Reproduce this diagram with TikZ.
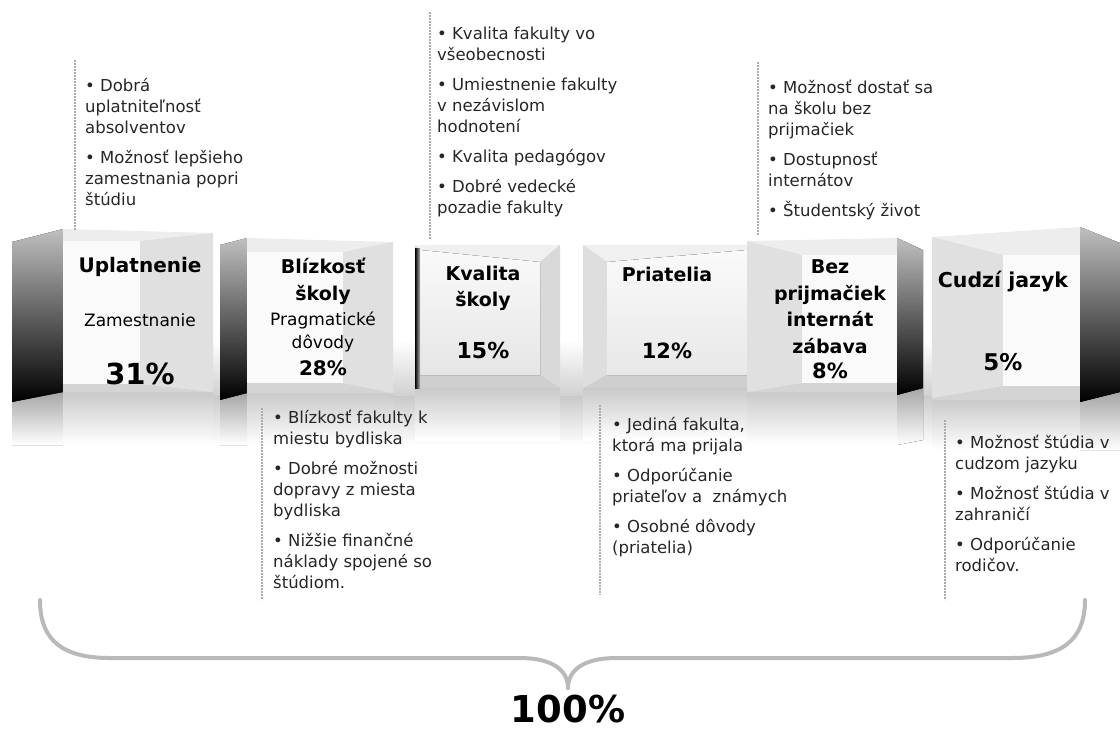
\documentclass[tikz,border=0pt]{standalone}
\usepackage{fontspec}
\setmainfont{DejaVu Sans}
\begin{document}
\begin{tikzpicture}[x=1pt,y=-1pt,
  sideface/.style={top color=gray!50, bottom color=black},
  frontface/.style={fill=gray!14},
  backwall/.style={fill=gray!4},
  innerwall/.style={fill=gray!24},
  floorface/.style={fill=gray!34},
  refl/.style={top color=gray!42, bottom color=white},
  darkrefl/.style={top color=gray!70, bottom color=white},
  bullets/.style={anchor=north west, inner sep=0pt, align=left, text=black!85, font=\fontsize{16.5}{21}\selectfont},
  ttl/.style={anchor=base, inner sep=0pt, font=\fontsize{19}{24}\selectfont\bfseries},
  subt/.style={anchor=base, inner sep=0pt, font=\fontsize{17}{22}\selectfont},
  pct/.style={anchor=base, inner sep=0pt},
  guide/.style={gray!65, line width=1.2pt, dash pattern=on 2pt off 1pt},
  brace/.style={gray!55, line width=4pt, line cap=round}
]
\path[use as bounding box] (0,0) rectangle (1120,729);

% background band behind the cubes and common reflection
\fill[top color=white, bottom color=gray!38] (200,340) rectangle (940,398);
\fill[refl] (12,396) rectangle (1120,446);

% ---------- reflections ----------
\fill[darkrefl] (12,400) -- (63,392) -- (63,445) -- (12,445) -- cycle;
\fill[refl] (63,392) rectangle (213,445);
\fill[darkrefl] (220,400) -- (247,393) -- (247,445) -- (220,445) -- cycle;
\fill[refl] (247,393) rectangle (393,445);
\fill[refl] (415,388) rectangle (560,440);
\fill[refl] (583,388) rectangle (752,440);
\fill[refl] (747,392) rectangle (897,445);
\fill[darkrefl] (897,395) -- (923,388) -- (923,440) -- (897,445) -- cycle;
\fill[refl] (932,400) rectangle (1080,450);
\fill[darkrefl] (1080,402) -- (1120,392) -- (1120,450) -- (1080,450) -- cycle;

% ---------- cube 1: Uplatnenie ----------
\fill[sideface] (12,242) -- (63,229) -- (63,392) -- (12,402) -- cycle;
\fill[frontface] (63,229) -- (213,233) -- (213,392) -- (63,392) -- cycle;
\fill[backwall] (63,241) -- (140,241) -- (140,384) -- (63,384) -- cycle;
\fill[innerwall] (140,241) -- (213,233) -- (213,392) -- (140,384) -- cycle;
\fill[floorface] (63,384) -- (140,384) -- (213,392) -- (63,392) -- cycle;

% ---------- cube 2: Blizkost ----------
\fill[sideface] (220,245) -- (247,238) -- (247,393) -- (220,400) -- cycle;
\fill[frontface] (247,238) -- (393,242) -- (393,393) -- (247,393) -- cycle;
\fill[backwall] (247,252) -- (343,252) -- (343,383) -- (247,383) -- cycle;
\fill[innerwall] (343,252) -- (393,242) -- (393,393) -- (343,383) -- cycle;
\fill[floorface] (247,383) -- (343,383) -- (393,393) -- (247,393) -- cycle;

% ---------- cube 3: Kvalita ----------
\fill[gray!30] (415,245) rectangle (560,388);
\fill[gray!12] (415,245) -- (560,245) -- (540,262) -- (420,250) -- cycle;
\fill[gray!30] (560,245) -- (560,388) -- (540,375) -- (540,262) -- cycle;
\fill[gray!38] (415,388) -- (560,388) -- (540,375) -- (420,375) -- cycle;
\fill[top color=gray!4, bottom color=gray!20] (420,250) -- (540,262) -- (540,375) -- (420,375) -- cycle;
\fill[left color=black, right color=gray!60] (415,248) rectangle (420,388);

% ---------- cube 4: Priatelia ----------
\fill[gray!30] (583,245) rectangle (752,388);
\fill[gray!12] (583,245) -- (752,245) -- (747,250) -- (607,262) -- cycle;
\fill[gray!26] (583,245) -- (607,262) -- (607,375) -- (583,388) -- cycle;
\fill[gray!38] (583,388) -- (607,375) -- (747,375) -- (752,388) -- cycle;
\fill[top color=gray!4, bottom color=gray!18] (607,262) -- (747,250) -- (747,375) -- (607,375) -- cycle;
\fill[left color=gray!60, right color=black] (747,250) rectangle (752,388);

% ---------- cube 5: Bez prijmaciek ----------
\fill[frontface] (747,241) -- (897,238) -- (897,392) -- (747,392) -- cycle;
\fill[innerwall] (747,241) -- (802,255) -- (802,383) -- (747,392) -- cycle;
\fill[backwall] (802,255) -- (897,255) -- (897,383) -- (802,383) -- cycle;
\fill[floorface] (747,392) -- (802,383) -- (897,383) -- (897,392) -- cycle;
\fill[sideface] (897,238) -- (923,250) -- (923,388) -- (897,395) -- cycle;

% ---------- cube 6: Cudzi jazyk ----------
\fill[frontface] (932,237) -- (1080,227) -- (1080,400) -- (932,400) -- cycle;
\fill[innerwall] (932,237) -- (1003,255) -- (1003,386) -- (932,398) -- cycle;
\fill[backwall] (1003,255) -- (1080,255) -- (1080,386) -- (1003,386) -- cycle;
\fill[floorface] (932,398) -- (1003,386) -- (1080,386) -- (1080,400) -- (932,400) -- cycle;
\fill[sideface] (1080,227) -- (1120,243) -- (1120,392) -- (1080,402) -- cycle;

% ---------- cube labels ----------
\node[ttl, font=\fontsize{20}{24}\selectfont\bfseries] (u1) at (140,272) {Uplatnenie};
\node[subt] (u2) at (140,326) {Zamestnanie};
\node[pct, font=\fontsize{29}{32}\selectfont\bfseries] (u3) at (140,384) {31\%};

\node[ttl] (b1) at (323,273) {Blízkosť};
\node[ttl] (b2) at (323,300) {školy};
\node[subt] (b3) at (323,325) {Pragmatické};
\node[subt] (b4) at (323,348) {dôvody};
\node[pct, font=\fontsize{20}{24}\selectfont\bfseries] (b5) at (323,375) {28\%};

\node[ttl] (k1) at (483,280) {Kvalita};
\node[ttl] (k2) at (483,306) {školy};
\node[pct, font=\fontsize{22}{26}\selectfont\bfseries] (k3) at (483,358) {15\%};

\node[ttl] (p1) at (667,281) {Priatelia};
\node[pct, font=\fontsize{21}{26}\selectfont\bfseries] (p2) at (667,358) {12\%};

\node[ttl] (z1) at (830,273) {Bez};
\node[ttl] (z2) at (830,300) {prijmačiek};
\node[ttl] (z3) at (830,326) {internát};
\node[ttl] (z4) at (830,353) {zábava};
\node[pct, font=\fontsize{21}{26}\selectfont\bfseries] (z5) at (830,378) {8\%};

\node[ttl, font=\fontsize{20.5}{24}\selectfont\bfseries] (c1) at (1003,287) {Cudzí jazyk};
\node[pct, font=\fontsize{23}{26}\selectfont\bfseries] (c2) at (1003,370) {5\%};

% ---------- guide lines ----------
\draw[guide] (75,60) -- (75,230);
\draw[guide] (430,12) -- (430,240);
\draw[guide] (758,62) -- (758,235);
\draw[guide] (262,408) -- (262,600);
\draw[guide] (600,405) -- (600,595);
\draw[guide] (945,420) -- (945,600);

% ---------- bullet texts ----------
\node[bullets] (ta) at (85,78) {• Dobrá\\uplatniteľnosť\\absolventov\\[9pt]• Možnosť lepšieho\\zamestnania popri\\štúdiu};
\node[bullets] (tb) at (437,27) {• Kvalita fakulty vo\\všeobecnosti\\[9pt]• Umiestnenie fakulty\\v nezávislom\\hodnotení\\[9pt]• Kvalita pedagógov\\[9pt]• Dobré vedecké\\pozadie fakulty};
\node[bullets] (tc) at (768,80) {• Možnosť dostať sa\\na školu bez\\prijmačiek\\[9pt]• Dostupnosť\\internátov\\[9pt]• Študentský život};
\node[bullets] (td) at (273,410) {• Blízkosť fakulty k\\miestu bydliska\\[9pt]• Dobré možnosti\\dopravy z miesta\\bydliska\\[9pt]• Nižšie finančné\\náklady spojené so\\štúdiom.};
\node[bullets] (te) at (612,417) {• Jediná fakulta,\\ktorá ma prijala\\[9pt]• Odporúčanie\\priateľov a\ \ známych\\[9pt]• Osobné dôvody\\(priatelia)};
\node[bullets] (tf) at (955,435) {• Možnosť štúdia v\\cudzom jazyku\\[9pt]• Možnosť štúdia v\\zahraničí\\[9pt]• Odporúčanie\\rodičov.};

% ---------- brace ----------
\draw[brace] (40,600) .. controls (40,640) and (62,658) .. (110,658) -- (520,658)
  .. controls (552,658) and (568,670) .. (568,688);
\draw[brace] (568,688) .. controls (568,670) and (584,658) .. (616,658) -- (1012,658)
  .. controls (1062,658) and (1085,640) .. (1085,600);
\node[pct, font=\fontsize{37}{40}\selectfont\bfseries] (total) at (568,722) {100\%};
\end{tikzpicture}
\end{document}
